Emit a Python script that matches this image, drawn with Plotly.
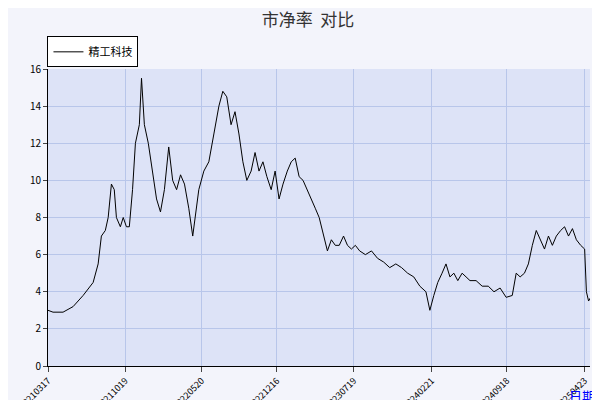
import pandas as pd
import plotly.graph_objects as go

# day offsets from 2021-03-17 and price-to-book values
day_offset = [0, 14, 42, 70, 98, 126, 140, 149, 160, 168, 177, 185, 191, 202, 210, 219, 227, 236, 244, 255,
              261, 269, 280, 292, 303, 314, 325, 337, 348, 359, 370, 381, 393, 404, 410, 421, 435, 449, 463, 477,
              488, 499, 511, 522, 533, 544, 555, 567, 578, 589, 600, 611, 623, 634, 645, 656, 668, 679, 690, 701,
              712, 724, 735, 746, 757, 769, 780, 791, 802, 813, 825, 836, 847, 858, 870, 886, 903, 920, 937, 954,
              971, 987, 1004, 1021, 1038, 1055, 1066, 1077, 1088, 1100, 1111, 1122, 1133, 1144, 1156, 1167, 1178,
              1195, 1212, 1229, 1245, 1262, 1279, 1296, 1307, 1318, 1330, 1341, 1352, 1363, 1374, 1386, 1397, 1408,
              1419, 1431, 1442, 1453, 1464, 1475, 1487, 1498, 1503, 1509, 1515]
pb = [3.0, 2.9, 2.9, 3.2, 3.8, 4.5, 5.5, 7.0, 7.3, 8.0, 9.8, 9.5, 8.0, 7.5, 8.0, 7.5, 7.5, 9.5, 12.0, 13.0,
      15.5, 13.0, 12.0, 10.5, 9.0, 8.3, 9.5, 11.8, 10.0, 9.5, 10.3, 9.8, 8.5, 7.0, 8.0, 9.5, 10.5, 11.0, 12.5, 14.0,
      14.8, 14.5, 13.0, 13.7, 12.5, 11.0, 10.0, 10.5, 11.5, 10.5, 11.0, 10.2, 9.5, 10.5, 9.0, 9.8, 10.5, 11.0, 11.2, 10.2,
      10.0, 9.5, 9.0, 8.5, 8.0, 7.0, 6.2, 6.8, 6.5, 6.5, 7.0, 6.5, 6.3, 6.5, 6.2, 6.0, 6.2, 5.8, 5.6, 5.3,
      5.5, 5.3, 5.0, 4.8, 4.3, 4.0, 3.0, 3.8, 4.5, 5.0, 5.5, 4.8, 5.0, 4.6, 5.0, 4.8, 4.6, 4.6, 4.3, 4.3,
      4.0, 4.2, 3.7, 3.8, 5.0, 4.8, 5.0, 5.5, 6.5, 7.3, 6.8, 6.3, 7.0, 6.5, 7.0, 7.3, 7.5, 7.0, 7.4, 6.8,
      6.5, 6.3, 4.0, 3.5, 3.7]
tick_labels = ["20210317", "20211019", "20220520", "20221216", "20230719",
               "20240221", "20240918", "20250423"]

n = min(len(day_offset), len(pb))
dates = pd.Timestamp("2021-03-17") + pd.to_timedelta(day_offset[:n], unit="D")
tick_dates = pd.to_datetime(tick_labels, format="%Y%m%d")

fig = go.Figure()
fig.add_trace(go.Scatter(x=dates, y=pb[:n], mode="lines", name="精工科技",
                         line=dict(color="black", width=1)))

font = "Noto Sans CJK SC"
fig.update_layout(
    width=600, height=400,
    margin=dict(l=40, r=18, t=61, b=42, autoexpand=False),
    paper_bgcolor="#f3f4fb",
    plot_bgcolor="#dde3f7",
    font=dict(family=font, size=11, color="black"),
    title=dict(text="市净率  对比", x=0.5, xanchor="center", y=0.985, yanchor="top",
               font=dict(size=17, color="#333")),
    showlegend=True,
    legend=dict(x=-0.001, y=1.11, xanchor="left", yanchor="top", bgcolor="white",
                bordercolor="black", borderwidth=1, font=dict(size=11)),
    xaxis=dict(range=[tick_dates[0], pd.Timestamp("2025-05-08")], tickvals=tick_dates,
               ticktext=tick_labels, tickangle=-45, showgrid=True, gridcolor="#b8c6ea",
               ticks="outside", ticklen=5, showline=True, linecolor="black",
               tickfont=dict(size=9), zeroline=False, automargin=False),
    yaxis=dict(range=[0, 16], dtick=2, showgrid=True, gridcolor="#b8c6ea",
               ticks="outside", ticklen=4, showline=True, linecolor="black",
               tickfont=dict(size=10), zeroline=False, automargin=False),
    shapes=[
        dict(type="rect", xref="paper", yref="paper", x0=1.025, x1=1.033, y0=-0.14, y1=1.2,
             fillcolor="#666", line_width=0, layer="above"),
    ],
    annotations=[
        dict(text="日期", xref="paper", yref="paper", x=0.985, y=-0.06, xanchor="center",
             yanchor="top", showarrow=False, font=dict(color="blue", size=13)),
    ],
)

fig.write_html("out.html")
